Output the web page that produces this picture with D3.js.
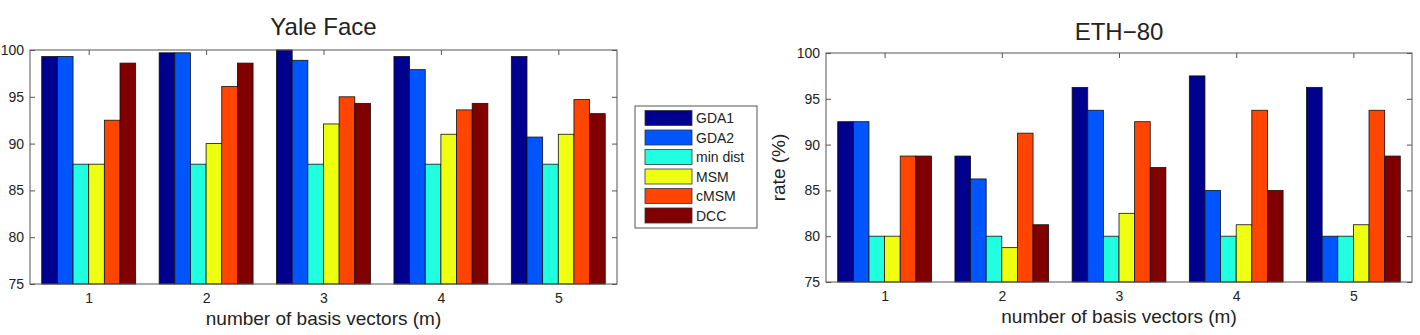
<!DOCTYPE html>
<html>
<head>
<meta charset="utf-8">
<script src="https://cdn.jsdelivr.net/npm/d3@7"></script>
<style>
  body { margin: 0; background: #fff; }
  svg { display: block; font-family: Arial, Helvetica, "Liberation Sans", sans-serif; }
  .tick text { font-size: 14px; fill: #222; }
  .tick line { stroke: #555; }
</style>
</head>
<body>
<svg id="chart" width="1420" height="335"></svg>
<script>
'use strict';

var groups = [1, 2, 3, 4, 5];
var methods = ['GDA1', 'GDA2', 'min dist', 'MSM', 'cMSM', 'DCC'];
var methodColors = ['#00008f', '#0055ff', '#20ffdf', '#efff10', '#ff4500', '#800000'];
var yTicks = [75, 80, 85, 90, 95, 100];

// Yale Face recognition rates (%)
var yaleGDA1 = [99.3, 99.7, 100, 99.3, 99.3];
var yaleGDA2 = [99.3, 99.7, 98.9, 97.9, 90.7];
var yaleMinDist = [87.8, 87.8, 87.8, 87.8, 87.8];
var yaleMSM = [87.8, 90.0, 92.1, 91.0, 91.0];
var yaleCMSM = [92.5, 96.1, 95.0, 93.6, 94.7];
var yaleDCC = [98.6, 98.6, 94.3, 94.3, 93.2];

// ETH-80 recognition rates (%)
var ethGDA1 = [92.5, 88.75, 96.25, 97.5, 96.25];
var ethGDA2 = [92.5, 86.25, 93.75, 85, 80];
var ethMinDist = [80, 80, 80, 80, 80];
var ethMSM = [80, 78.75, 82.5, 81.25, 81.25];
var ethCMSM = [88.75, 91.25, 92.5, 93.75, 93.75];
var ethDCC = [88.75, 81.25, 87.5, 85, 88.75];

var svg = d3.select('#chart');

function drawChart(opts) {
  var x = d3.scaleLinear().domain([0.5, 5.5]).range([opts.left, opts.right]);
  var y = d3.scaleLinear().domain([75, 100]).range([opts.bottom, opts.top]);
  var inner = d3.scaleBand().domain(methods).range([-0.4, 0.4]).padding(0);

  var g = svg.append('g');

  g.append('g')
    .attr('transform', 'translate(' + opts.left + ',0)')
    .call(d3.axisLeft(y).tickValues(yTicks).tickSizeInner(-5).tickSizeOuter(0).tickPadding(6))
    .call(function(s) { s.select('.domain').remove(); });
  g.append('g')
    .attr('transform', 'translate(' + opts.right + ',0)')
    .call(d3.axisRight(y).tickValues(yTicks).tickSizeInner(-5).tickSizeOuter(0).tickFormat(''))
    .call(function(s) { s.select('.domain').remove(); });
  g.append('g')
    .attr('transform', 'translate(0,' + opts.bottom + ')')
    .call(d3.axisBottom(x).tickValues(groups).tickSizeInner(-5).tickSizeOuter(0).tickPadding(9).tickFormat(d3.format('d')))
    .call(function(s) { s.select('.domain').remove(); });
  g.append('g')
    .attr('transform', 'translate(0,' + opts.top + ')')
    .call(d3.axisTop(x).tickValues(groups).tickSizeInner(-5).tickSizeOuter(0).tickFormat(''))
    .call(function(s) { s.select('.domain').remove(); });

  opts.series.forEach(function(values, i) {
    g.append('g')
      .selectAll('rect')
      .data(values)
      .enter().append('rect')
      .attr('x', function(d, j) { return x(groups[j] + inner(methods[i])); })
      .attr('width', function() { return x(inner.bandwidth()) - x(0); })
      .attr('y', function(d) { return y(d); })
      .attr('height', function(d) { return y(75) - y(d); })
      .attr('fill', methodColors[i])
      .attr('stroke', '#111')
      .attr('stroke-width', 0.8);
  });

  // axes box drawn on top
  g.append('rect')
    .attr('x', opts.left).attr('y', opts.top)
    .attr('width', opts.right - opts.left).attr('height', opts.bottom - opts.top)
    .attr('fill', 'none').attr('stroke', '#555').attr('stroke-width', 1);

  g.append('text')
    .attr('x', (opts.left + opts.right) / 2).attr('y', opts.titleY)
    .attr('text-anchor', 'middle').attr('font-size', 24).attr('fill', '#222')
    .text(opts.title);

  g.append('text')
    .attr('x', (opts.left + opts.right) / 2).attr('y', opts.bottom + 41)
    .attr('text-anchor', 'middle').attr('font-size', 19).attr('fill', '#222')
    .text('number of basis vectors (m)');

  if (opts.yLabel) {
    g.append('text')
      .attr('transform', 'translate(' + (opts.left - 41) + ',' + ((opts.top + opts.bottom) / 2) + ') rotate(-90)')
      .attr('text-anchor', 'middle').attr('font-size', 19).attr('fill', '#222')
      .text(opts.yLabel);
  }
}

drawChart({
  left: 30, right: 617, top: 50, bottom: 284, titleY: 35,
  title: 'Yale Face',
  series: [yaleGDA1, yaleGDA2, yaleMinDist, yaleMSM, yaleCMSM, yaleDCC]
});

drawChart({
  left: 826, right: 1412, top: 53, bottom: 282, titleY: 40,
  title: 'ETH\u221280', yLabel: 'rate (%)',
  series: [ethGDA1, ethGDA2, ethMinDist, ethMSM, ethCMSM, ethDCC]
});

// legend
var legend = svg.append('g').attr('transform', 'translate(635,106)');
legend.append('rect')
  .attr('width', 122).attr('height', 122)
  .attr('fill', '#fff').attr('stroke', '#555');
var rows = legend.selectAll('g.row')
  .data(methods)
  .enter().append('g').attr('class', 'row')
  .attr('transform', function(d, i) { return 'translate(0,' + (12 + i * 19.5) + ')'; });
rows.append('rect')
  .attr('x', 10).attr('y', -7.5).attr('width', 47).attr('height', 15)
  .attr('fill', function(d, i) { return methodColors[i]; })
  .attr('stroke', '#333').attr('stroke-width', 0.8);
rows.append('text')
  .attr('x', 61).attr('dy', '0.36em')
  .attr('font-size', 14).attr('fill', '#222')
  .text(function(d) { return d; });
</script>
</body>
</html>
